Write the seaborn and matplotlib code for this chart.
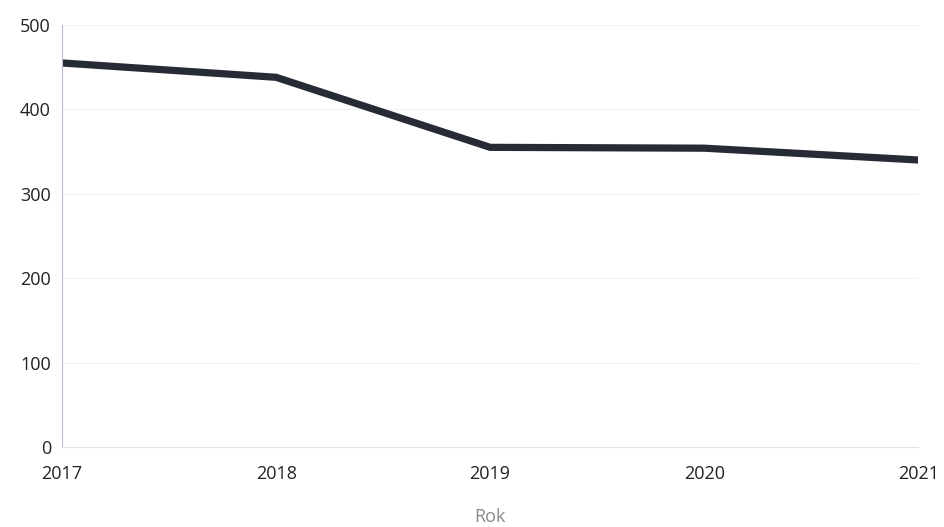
import matplotlib
matplotlib.use("Agg")
import matplotlib.pyplot as plt
import seaborn as sns
import pandas as pd

# values
years = [2017, 2018, 2019, 2020, 2021]
values = [455, 438, 355, 354, 340]
y_ticks = [0, 100, 200, 300, 400, 500]

df = pd.DataFrame({"Rok": years, "Wartość": values})

sns.set_theme(style="white")
plt.rcParams["font.family"] = ["Open Sans", "DejaVu Sans"]

fig = plt.figure(figsize=(9.44, 5.27), dpi=100)
ax = fig.add_axes([0.0657, 0.152, 0.907, 0.8006])

sns.lineplot(data=df, x="Rok", y="Wartość", ax=ax, color="#262b36",
             linewidth=5.2, solid_capstyle="butt", solid_joinstyle="miter")

ax.set_xlim(years[0], years[-1])
ax.set_ylim(0, 500)
ax.set_xticks(years)
ax.set_xticklabels([str(y) for y in years])
ax.set_yticks(y_ticks)
ax.tick_params(axis="both", labelsize=13, colors="#222222", length=0)
ax.tick_params(axis="y", pad=8)
ax.tick_params(axis="x", pad=13)
# first label sits a little left of its tick, as in the reference
ax.get_xticklabels()[0].set_ha("center")
ax.get_xticklabels()[0].set_x(years[0])

ax.grid(axis="y", color="#f1f1f5", linewidth=0.9)
ax.set_axisbelow(True)
for side in ["top", "right"]:
    ax.spines[side].set_visible(False)
ax.spines["left"].set_color("#b8bcd6")
ax.spines["left"].set_linewidth(0.8)
ax.spines["bottom"].set_color("#e2e3ea")
ax.spines["bottom"].set_linewidth(0.8)

ax.set_ylabel("")
ax.set_xlabel("Rok", fontsize=13, color="#8a8a8a", labelpad=18)

fig.savefig("out.png", dpi=100)
